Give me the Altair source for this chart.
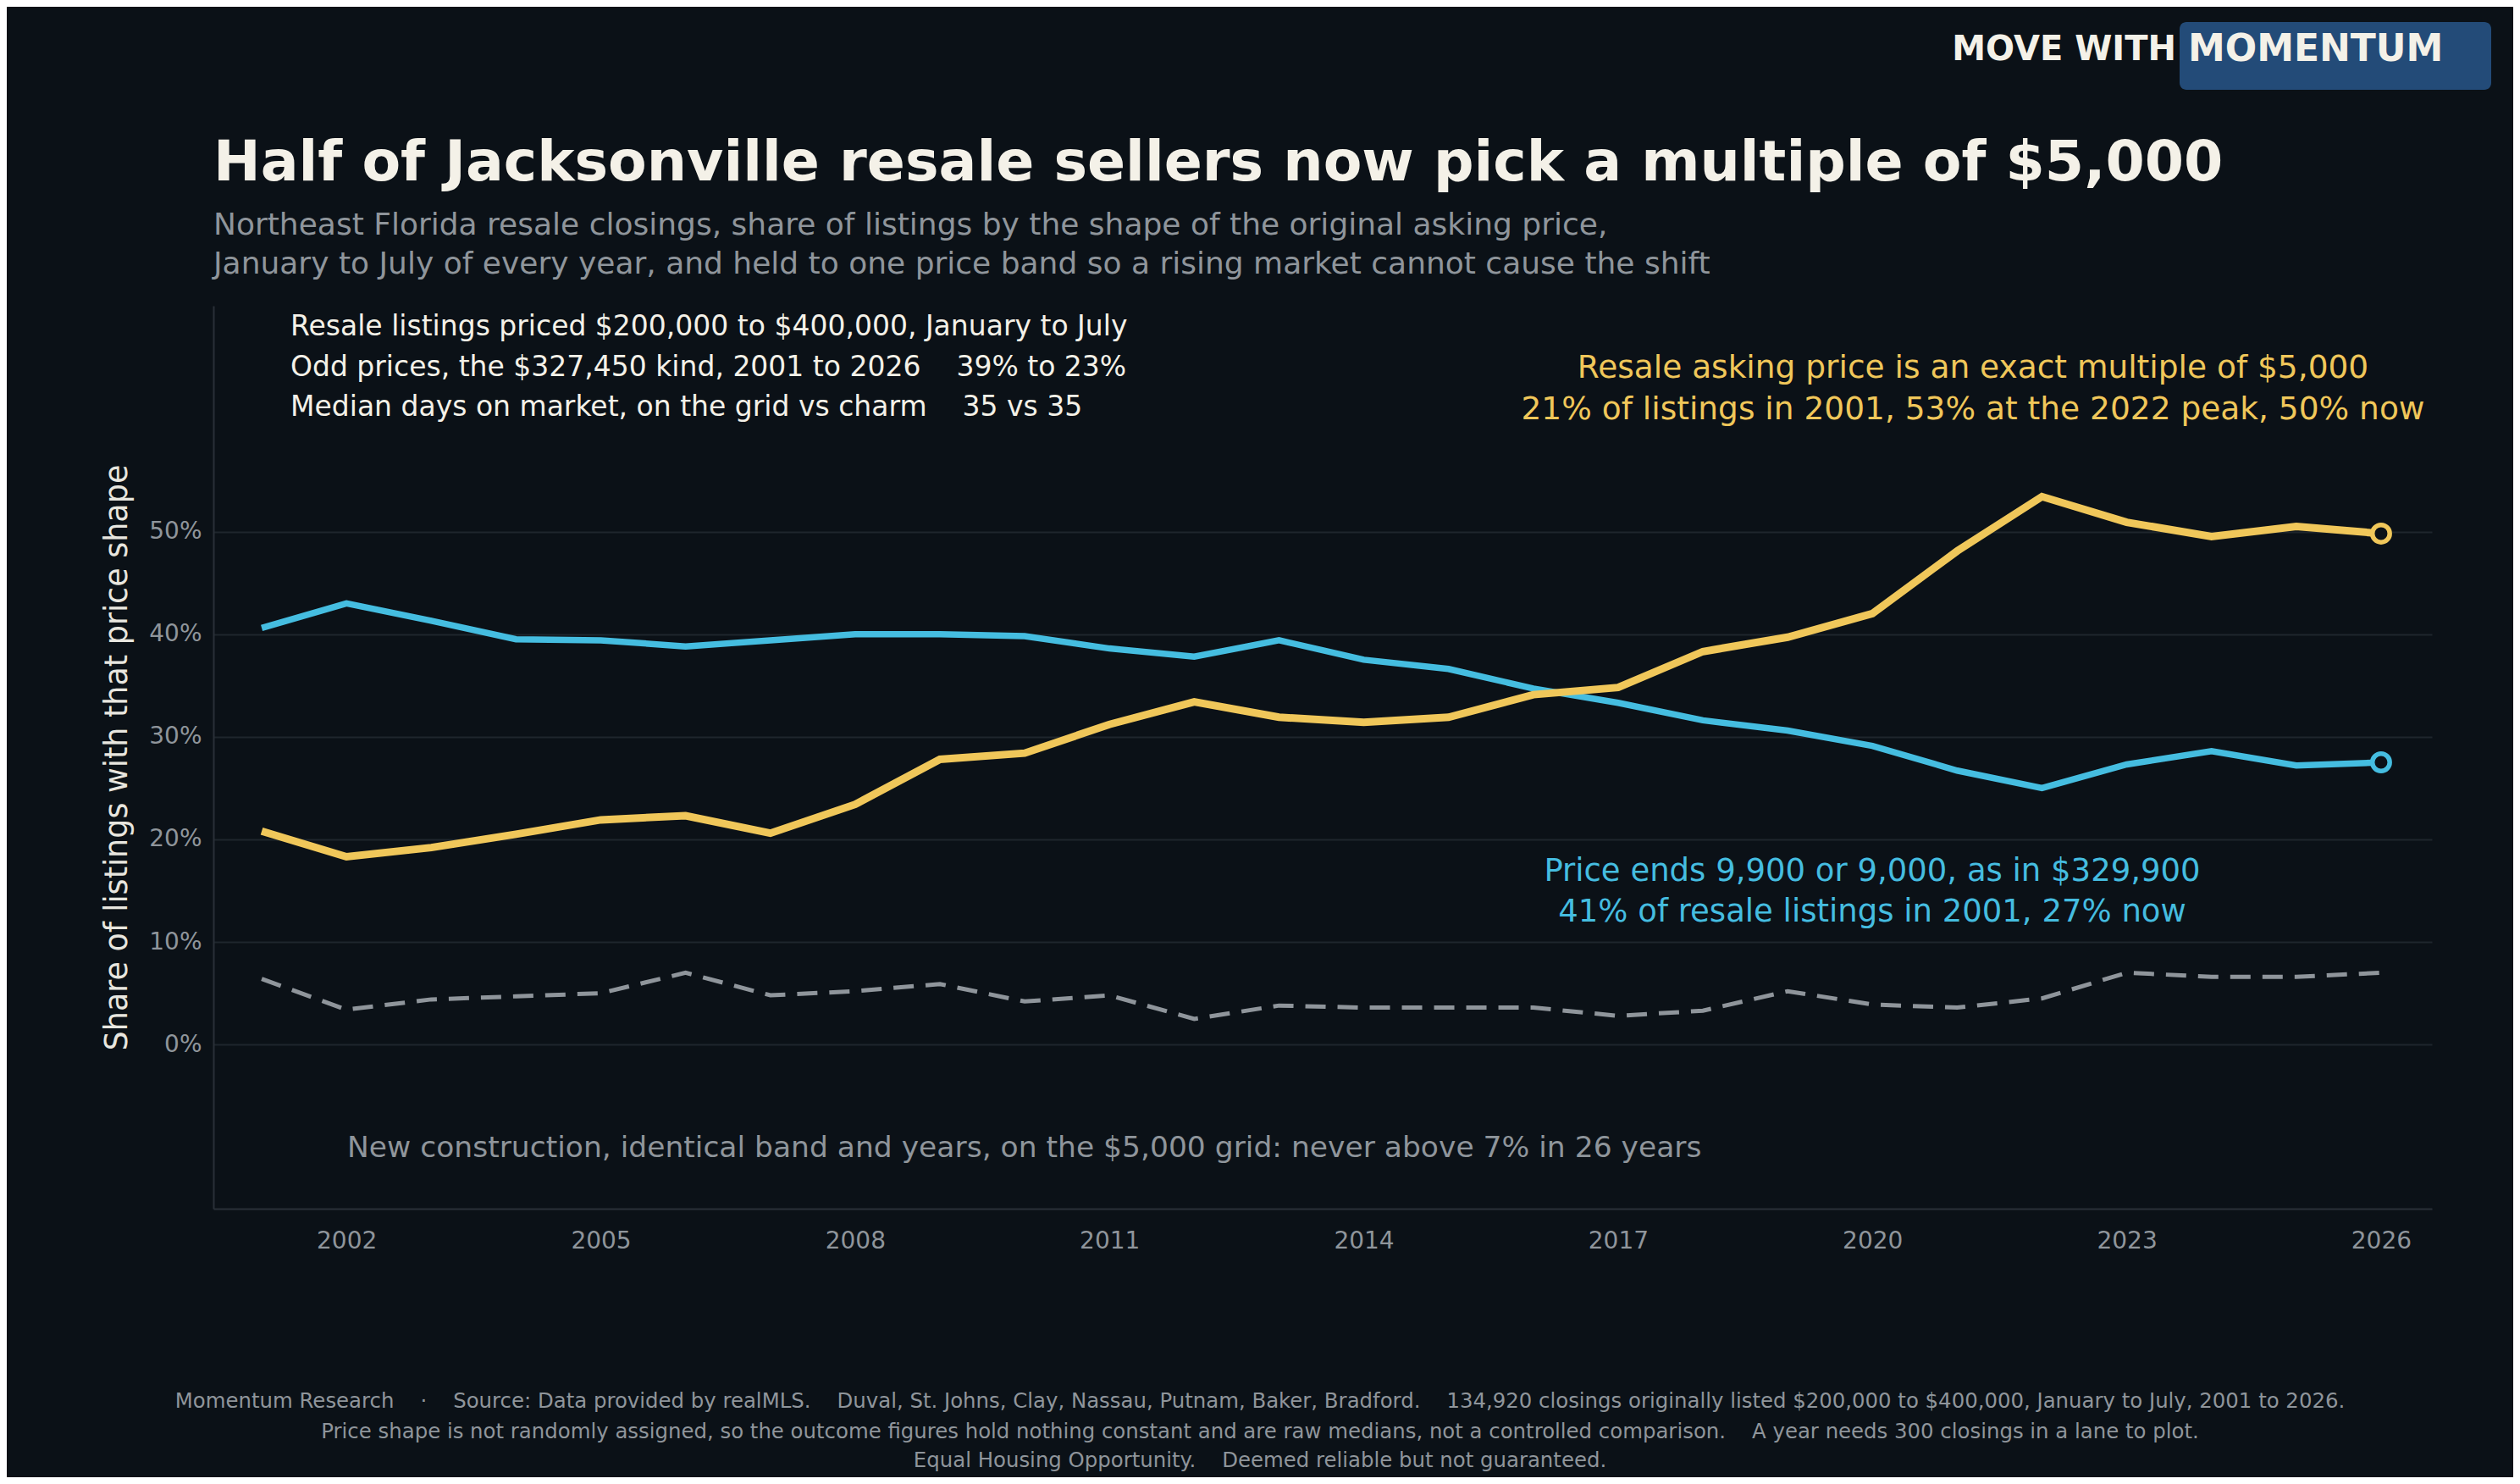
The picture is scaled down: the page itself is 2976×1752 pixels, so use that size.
import altair as alt
import pandas as pd

years = list(range(2001, 2027))
grid_share = [20.8, 18.3, 19.2, 20.5, 21.9, 22.3, 20.6, 23.4, 27.8, 28.4, 31.2, 33.4, 31.9,
              31.4, 31.9, 34.1, 34.8, 38.3, 39.7, 42.0, 48.1, 53.4, 50.9, 49.5, 50.5, 49.8]
charm_share = [40.6, 43.0, 41.3, 39.5, 39.4, 38.8, 39.4, 40.0, 40.0, 39.8, 38.6, 37.8, 39.4,
               37.5, 36.6, 34.7, 33.3, 31.6, 30.6, 29.1, 26.7, 25.0, 27.3, 28.6, 27.2, 27.5]
newcon_share = [6.4, 3.4, 4.4, 4.7, 5.0, 7.0, 4.8, 5.2, 5.9, 4.2, 4.8, 2.5, 3.8,
                3.6, 3.6, 3.6, 2.8, 3.3, 5.2, 3.9, 3.6, 4.5, 7.0, 6.6, 6.6, 7.0]

BG = "#0b1117"
YELLOW = "#f0c75a"
BLUE = "#45bde0"
GRAY = "#8f959b"
FONT = "DejaVu Sans"
SP = "\u00a0"

df = pd.DataFrame({
    "year": years * 3,
    "share": grid_share + charm_share + newcon_share,
    "lane": ["grid"] * 26 + ["charm"] * 26 + ["newcon"] * 26,
})

x = alt.X("year:Q", scale=alt.Scale(domain=[2000.43, 2026.6], nice=False, zero=False),
          axis=alt.Axis(values=list(range(2002, 2027, 3)), format="d", title=None, grid=False,
                        ticks=False, labelColor=GRAY, labelFontSize=28, labelFont=FONT,
                        labelPadding=24, domainColor="#2a3038", domainWidth=2))
y = alt.Y("share:Q", scale=alt.Scale(domain=[-16, 72], nice=False),
          axis=alt.Axis(values=[0, 10, 20, 30, 40, 50], labelExpr="datum.value + '%'",
                        title="Share of listings with that price shape", titleColor="#e8e6df",
                        titleFontSize=36.5, titleFont=FONT, titleFontWeight="normal", titlePadding=18,
                        labelColor=GRAY, labelFontSize=28, labelFont=FONT, labelPadding=14,
                        ticks=False, gridColor="#1f262d", gridWidth=2,
                        domainColor="#2a3038", domainWidth=2))

base = alt.Chart(df)
newcon = base.transform_filter("datum.lane == 'newcon'").mark_line(
    color=GRAY, strokeWidth=5, strokeDash=[24, 14]).encode(x=x, y=y)
charm = base.transform_filter("datum.lane == 'charm'").mark_line(
    color=BLUE, strokeWidth=7.5).encode(x=x, y=y)
grid = base.transform_filter("datum.lane == 'grid'").mark_line(
    color=YELLOW, strokeWidth=9).encode(x=x, y=y)
ends = base.transform_filter("datum.year == 2026 && datum.lane != 'newcon'").mark_point(
    filled=True, fill=BG, size=420, strokeWidth=5.5, opacity=1).encode(
    x=x, y=y, stroke=alt.Color("lane:N", scale=alt.Scale(domain=["grid", "charm"], range=[YELLOW, BLUE]),
                               legend=None))


def txt(s, px, py, size, color, align="left", weight="normal"):
    s = s.replace("  ", SP + SP)
    return alt.Chart(pd.DataFrame({"t": [s]})).mark_text(
        align=align, baseline="middle", fontSize=size, font=FONT, color=color, fontWeight=weight
    ).encode(text="t:N", x=alt.value(px), y=alt.value(py))


texts = [
    txt("Half of Jacksonville resale sellers now pick a multiple of $5,000", 0, -168, 66.5, "#f4f1e8", weight="bold"),
    txt("Northeast Florida resale closings, share of listings by the shape of the original asking price,", 0, -95, 36, GRAY),
    txt("January to July of every year, and held to one price band so a rising market cannot cause the shift", 0, -49, 36, GRAY),
    txt("Resale listings priced $200,000 to $400,000, January to July", 91, 25, 33, "#f4f1e8"),
    txt("Odd prices, the $327,450 kind, 2001 to 2026    39% to 23%", 91, 73, 33, "#f4f1e8"),
    txt("Median days on market, on the grid vs charm    35 vs 35", 91, 120, 33, "#f4f1e8"),
    txt("Resale asking price is an exact multiple of $5,000", 2078, 74, 37.5, YELLOW, align="center"),
    txt("21% of listings in 2001, 53% at the 2022 peak, 50% now", 2078, 123, 37.5, YELLOW, align="center"),
    txt("Price ends 9,900 or 9,000, as in $329,900", 1959, 668, 37, BLUE, align="center"),
    txt("41% of resale listings in 2001, 27% now", 1959, 716, 37, BLUE, align="center"),
    txt("New construction, identical band and years, on the $5,000 grid: never above 7% in 26 years", 158, 995, 34.5, GRAY),
    txt("Momentum Research    ·    Source: Data provided by realMLS.    Duval, St. Johns, Clay, Nassau, Putnam, Baker, Bradford.    134,920 closings originally listed $200,000 to $400,000, January to July, 2001 to 2026.",
        1236, 1294, 24.4, GRAY, align="center"),
    txt("Price shape is not randomly assigned, so the outcome figures hold nothing constant and are raw medians, not a controlled comparison.    A year needs 300 closings in a lane to plot.",
        1236, 1330, 24.4, GRAY, align="center"),
    txt("Equal Housing Opportunity.    Deemed reliable but not guaranteed.", 1236, 1364, 24.4, GRAY, align="center"),
]

brush = alt.Chart(pd.DataFrame({"a": [0]})).mark_rect(color="#234b78", cornerRadius=8).encode(
    x=alt.value(2322), x2=alt.value(2690), y=alt.value(-335), y2=alt.value(-255))
logo = [
    alt.Chart(pd.DataFrame({"t": ["MOVE WITH"]})).mark_text(
        align="right", baseline="middle", fontSize=40, font=FONT, fontWeight="bold", color="#f4f1e8"
    ).encode(text="t:N", x=alt.value(2318), y=alt.value(-302)),
    alt.Chart(pd.DataFrame({"t": ["MOMENTUM"]})).mark_text(
        align="left", baseline="middle", fontSize=44, font=FONT, fontWeight="bold", color="#f4f1e8"
    ).encode(text="t:N", x=alt.value(2332), y=alt.value(-302)),
]

chart = alt.layer(newcon, charm, grid, ends, brush, *logo, *texts).properties(
    width=2620, height=1066, background=BG,
    autosize=alt.AutoSizeParams(type="none"),
    padding={"left": 244, "top": 353, "right": 96, "bottom": 317},
).configure_view(stroke=None)

chart.save("out.html", embed_options={"renderer": "svg", "actions": False})
